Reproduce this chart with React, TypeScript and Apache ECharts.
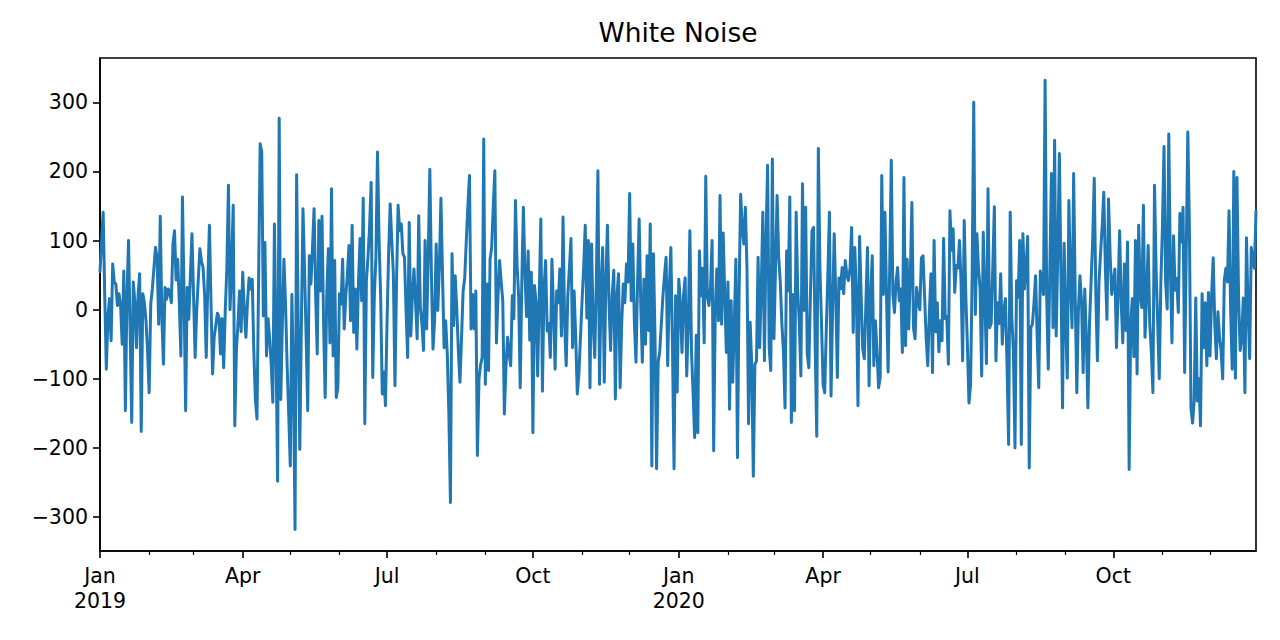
import React, { useEffect, useRef } from "react";
import * as echarts from "echarts";

const title = "White Noise";
const startDate = "2019-01-01";

// daily values (730 days: 2019-01-01 .. 2020-12-30)
const values2019H1: number[] = [
  55, 100, 141, 20, -86, -10, 16, -45, 66, 40,
  37, 6, 23, 5, -50, 56, -146, 20, 100, -30,
  -163, 40, 10, -55, 20, 52, -176, 23, 10, -16,
  -60, -120, 8, 30, 60, 90, 75, -21, 135, -10,
  -79, 32, 15, 30, 25, 10, 95, 114, 43, 73,
  10, -67, 163, 20, -146, 32, -14, 50, 110, 20,
  -69, 0, 45, 88, 70, 61, 20, -69, 40, 122,
  10, -93, -40, -23, -5, -11, -64, -13, -84, -1,
  60, 180, 0, 60, 151, -168, -60, -20, 27, -32,
  54, 0, -40, 10, 46, 30, 44, -60, -130, -158,
  40, 240, 228, -9, 97, -67, -13, -42, -80, -134,
  124, -50, -248, 277, -130, -20, 73, 8, -80, -150,
  -226, 22, -100, -318, 195, -21, -202, -20, 146, 57,
  -40, -146, 78, 37, 90, 146, 20, -64, 129, 27,
  135, -20, -127, 20, 88, -48, 175, -67, 71, -127,
  -113, 23, 8, 73, -28, 20, 50, 93, -16, 122,
  -33, 30, -57, 40, 103, 13, 161, -165, 42, 76,
  120, 184, -98, 20, 76, 228, 100, 17, -122, -90,
];
const values2019H2: number[] = [
  -139, -20, 80, 153, 100, 52, -110, 40, 151, 114,
  124, 81, 76, 0, -69, 126, -38, 20, 59, 10,
  -42, 136, 3, -20, -59, 100, -28, 80, 203, 50,
  -57, -16, 95, -1, 60, 161, 50, -55, -16, -64,
  -150, -279, 81, -23, 49, 0, -60, -105, -40, 27,
  46, 100, 150, 194, -28, 22, -28, 27, -211, -100,
  -80, -69, 247, -108, 37, -88, 73, 90, 150, 201,
  -48, 20, 71, 40, 13, -151, -83, -40, -64, -81,
  20, -13, 158, 66, 20, -113, 40, 148, 50, -10,
  85, -44, 54, -178, 35, 10, -96, 20, 131, -118,
  30, 71, -31, -20, -69, 73, 0, -86, 27, 10,
  59, -38, 134, -20, -81, 20, 60, 103, -55, 27,
  -40, -122, -93, -40, 13, 60, 122, -12, 100, -113,
  95, -20, -69, 40, 201, -108, 30, 90, -105, 40,
  122, 10, -59, 20, 57, -129, 20, 52, -113, -20,
  37, 10, 66, 40, 168, 13, 95, -20, -76, 40,
  131, 10, -76, 44, -50, 78, -30, 124, -226, 81,
  -40, -230, -76, -60, -20, 20, 50, 76, -81, 30,
  90, -50, -230, 20, -119,
];
const values2020H1: number[] = [
  44, 10, -62, 20, 46,
  -96, -20, 114, -60, -120, -185, -37, -178, 85, 20,
  60, -48, 193, 20, 6, 32, 100, -204, 0, 59,
  -16, 165, -21, 111, 20, -62, 40, -144, 13, -105,
  -20, 73, -214, 20, 167, 120, 95, 148, 60, -165,
  -18, -80, -241, -79, -74, 76, -55, 30, 141, -74,
  100, 209, -55, -88, 218, -42, 60, 165, 76, 40,
  -20, -60, -142, 85, 27, 163, -163, 22, -146, 141,
  27, -20, -96, 182, -1, 148, -64, -84, 20, 114,
  119, -50, -183, 233, 60, -20, -108, -120, -30, 50,
  141, -125, 0, 110, 20, -98, 46, 30, 61, 23,
  71, 50, 42, 60, 119, -33, 90, 20, -139, 106,
  20, -57, -71, 10, 90, -110, 20, 78, -81, -16,
  -60, -113, -98, 194, 22, 141, 20, -90, 60, 216,
  22, -4, 40, 61, 13, 30, -62, 191, -52, 73,
  -28, 50, 155, -26, -42, 32, 10, 0, 75, 78,
  20, -40, -81, -6, 52, -91, 100, -32, 10, -61,
  -16, -45, 103, -13, -10, -79, 143, 86, 117, 25,
];
const values2020H2: number[] = [
  64, 60, 100, 40, -74, 129, 20, -50, -135, -109,
  50, 300, -7, 110, 60, 30, -96, 112, 20, -78,
  175, -26, -20, 60, 149, -74, 10, -20, 52, -50,
  0, 16, -80, -195, 141, -10, -60, -200, 42, 18,
  100, -195, 110, 30, 61, 106, -229, -26, -21, 10,
  49, -40, -113, 56, 40, 22, 332, 20, -86, 60,
  197, -26, 245, -38, 80, 226, 50, -142, 96, -20,
  -99, 158, 40, -26, 197, 20, -120, 0, 49, 10,
  -91, 30, -40, -142, -20, 40, 100, 190, 20, -74,
  40, 83, 120, 170, 60, -14, 160, 80, 22, 40,
  59, -55, 20, 114, 10, -48, 66, -30, 98, -231,
  -20, 16, -68, 100, -93, 122, 20, 3, 151, -40,
  20, 93, -20, -60, -120, 180, 60, -20, -100, 40,
  120, 236, 40, 1, 254, 60, -48, 107, 28, 45,
  -4, 139, 98, 148, -91, 80, 257, 119, -142, -164,
  -132, 17, -132, -100, -168, 23, -55, 10, -81, 25,
  -67, 20, 75, -20, -71, -3, -40, -60, -100, 42,
  60, 40, 143, 0, -86, 200, -99, 191, 20, -59,
  -40, 17, -120, 104, 0, -71, 90, 71, 60, 143,
];

const yTickValues = [-300, -200, -100, 0, 100, 200, 300];
const majorTickDates = [
  "2019-01-01", "2019-04-01", "2019-07-01", "2019-10-01",
  "2020-01-01", "2020-04-01", "2020-07-01", "2020-10-01",
];
const minorTickDates = [
  "2019-02-01", "2019-03-01", "2019-05-01", "2019-06-01", "2019-08-01", "2019-09-01",
  "2019-11-01", "2019-12-01", "2020-02-01", "2020-03-01", "2020-05-01", "2020-06-01",
  "2020-08-01", "2020-09-01", "2020-11-01", "2020-12-01",
];
const monthNames = ["Jan", "Feb", "Mar", "Apr", "May", "Jun", "Jul", "Aug", "Sep", "Oct", "Nov", "Dec"];

const DAY = 86400000;
const ts = (s: string) => Date.parse(s + "T00:00:00Z");

export default function App() {
  const ref = useRef<HTMLDivElement>(null);
  useEffect(() => {
    if (!ref.current) return;
    const chart = echarts.init(ref.current, null, { renderer: "svg" });
    const values = [...values2019H1, ...values2019H2, ...values2020H1, ...values2020H2];
    const t0 = ts(startDate);
    const data = values.map((v, i) => [t0 + i * DAY, v]);
    const xMin = t0;
    const xMax = t0 + (values.length - 1) * DAY;
    const font = "DejaVu Sans";
    chart.setOption({
      animation: false,
      backgroundColor: "#ffffff",
      title: {
        text: title,
        left: 678,
        textAlign: "center",
        top: 19,
        padding: 0,
        textStyle: { fontFamily: font, fontSize: 26.5, fontWeight: "normal", color: "#000" },
      },
      grid: {
        left: 100,
        right: 24,
        top: 58,
        bottom: 89,
        show: true,
        borderColor: "#000",
        borderWidth: 1.6,
        containLabel: false,
      },
      xAxis: [
        {
          type: "value",
          min: xMin,
          max: xMax,
          scale: true,
          splitLine: { show: false },
          axisLine: { show: true, onZero: false, lineStyle: { color: "#000", width: 1.6 } },
          axisTick: {
            show: true,
            length: 7,
            lineStyle: { color: "#000", width: 1.6 },
            customValues: majorTickDates.map(ts),
          },
          axisLabel: {
            show: true,
            customValues: majorTickDates.map(ts),
            fontFamily: font,
            fontSize: 20.5,
            color: "#000",
            lineHeight: 25,
            margin: 12,
            hideOverlap: false,
            verticalAlign: "top",
            formatter: (v: number) => {
              const d = new Date(v);
              const m = d.getUTCMonth();
              return m === 0 ? monthNames[m] + "\n" + d.getUTCFullYear() : monthNames[m];
            },
          },
        },
        {
          type: "value",
          min: xMin,
          max: xMax,
          scale: true,
          position: "bottom",
          splitLine: { show: false },
          axisLine: { show: false, onZero: false },
          axisTick: {
            show: true,
            length: 4,
            lineStyle: { color: "#000", width: 1.2 },
            customValues: minorTickDates.map(ts),
          },
          axisLabel: { show: false },
        },
      ],
      yAxis: {
        type: "value",
        min: -349,
        max: 364,
        splitLine: { show: false },
        axisLine: { show: true, lineStyle: { color: "#000", width: 1.6 } },
        axisTick: {
          show: true,
          length: 7,
          lineStyle: { color: "#000", width: 1.6 },
          customValues: yTickValues,
        },
        axisLabel: {
          customValues: yTickValues,
          fontFamily: font,
          fontSize: 20.5,
          color: "#000",
          margin: 12,
          formatter: (v: number) => (v < 0 ? "\u2212" + Math.abs(v) : String(v)),
        },
      },
      series: [
        {
          type: "line",
          data,
          xAxisIndex: 0,
          showSymbol: false,
          symbol: "none",
          lineStyle: { color: "#1f77b4", width: 3, join: "round", cap: "round" },
          itemStyle: { color: "#1f77b4" },
          clip: true,
        },
      ],
    });
    return () => chart.dispose();
  }, []);
  return (
    <div
      ref={ref}
      style={{ position: "absolute", left: 0, top: 0, width: 1280, height: 640 }}
    />
  );
}
